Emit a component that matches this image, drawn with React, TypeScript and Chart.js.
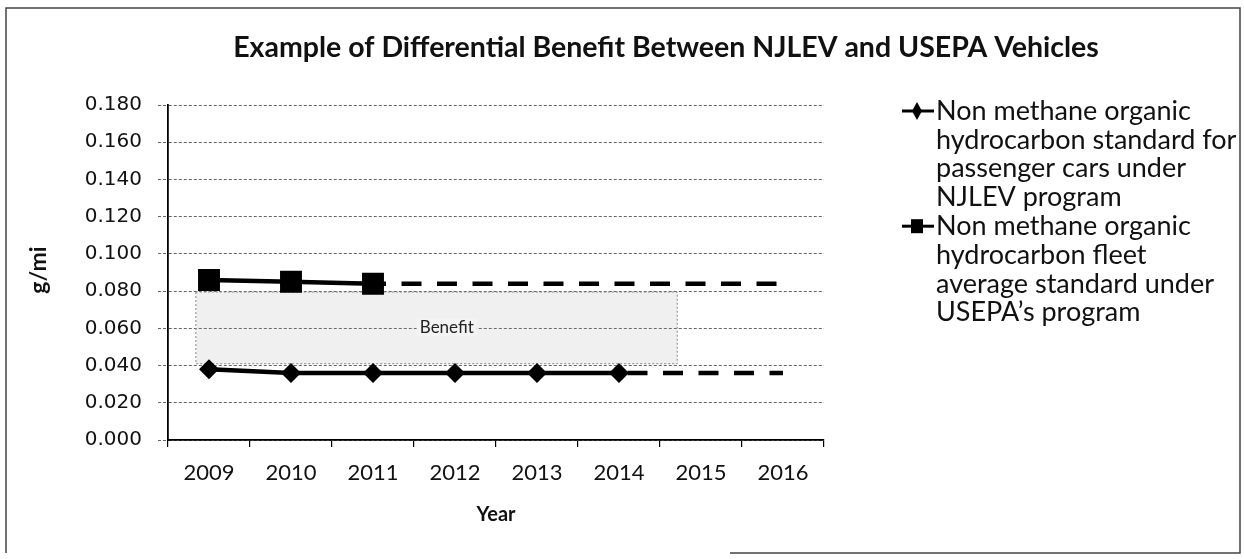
import React, { useEffect, useRef } from 'react';
import { Chart, registerables } from 'chart.js';

Chart.register(...registerables);

const chartTitle = 'Example of Differential Benefit Between NJLEV and USEPA Vehicles';
const xAxisTitle = 'Year';
const yAxisTitle = 'g/mi';
const years = ['2009', '2010', '2011', '2012', '2013', '2014', '2015', '2016'];
const njlevValues = [0.038, 0.036, 0.036, 0.036, 0.036, 0.036, 0.036, 0.036];
const usepaValues = [0.086, 0.085, 0.084, 0.084, 0.084, 0.084, 0.084, 0.084];
const njlevLastMarked = 5; // markers and solid line through 2014, dashed after
const usepaLastMarked = 2; // markers and solid line through 2011, dashed after
const yTicks = [0, 0.02, 0.04, 0.06, 0.08, 0.1, 0.12, 0.14, 0.16, 0.18];
const njlevLegend = ['Non methane organic', 'hydrocarbon standard for', 'passenger cars under', 'NJLEV program'];
const usepaLegend = ['Non methane organic', 'hydrocarbon fleet', 'average standard under', 'USEPA\u2019s program'];
const benefitLabel = 'Benefit';
const benefitXFrom = -0.16;
const benefitXTo = 5.71;
const benefitYFrom = 0.041;
const benefitYTo = 0.0795;
const benefitLabelX = 2.9;
const benefitLabelY = 0.0605;

const W = 1244;
const H = 559;
const AREA_LEFT = 168;
const AREA_RIGHT = 824;
const AREA_TOP = 105;
const AREA_BOTTOM = 440;

const decorPlugin = {
  id: 'decor',
  beforeDraw(chart: any) {
    const ctx = chart.ctx;
    ctx.save();
    ctx.fillStyle = '#fff';
    ctx.fillRect(0, 0, W, H);
    ctx.strokeStyle = '#444';
    ctx.lineWidth = 1.5;
    ctx.beginPath();
    ctx.moveTo(6, 553);
    ctx.lineTo(6, 8);
    ctx.lineTo(1240, 8);
    ctx.lineTo(1240, 553);
    ctx.lineTo(730, 553);
    ctx.stroke();
    ctx.restore();
  },
  beforeDatasetsDraw(chart: any) {
    const ctx = chart.ctx;
    const xs = chart.scales.x;
    const ys = chart.scales.y;
    const x0 = xs.getPixelForValue(benefitXFrom);
    const x1 = xs.getPixelForValue(benefitXTo);
    const y0 = ys.getPixelForValue(benefitYTo);
    const y1 = ys.getPixelForValue(benefitYFrom);
    ctx.save();
    ctx.fillStyle = 'rgba(150,150,150,0.14)';
    ctx.fillRect(x0, y0, x1 - x0, y1 - y0);
    ctx.strokeStyle = '#888';
    ctx.lineWidth = 1;
    ctx.setLineDash([2, 2]);
    ctx.strokeRect(x0, y0, x1 - x0, y1 - y0);
    ctx.setLineDash([]);
    const lx = xs.getPixelForValue(benefitLabelX);
    const ly = ys.getPixelForValue(benefitLabelY);
    ctx.font = '17px Lato';
    const tw = ctx.measureText(benefitLabel).width;
    ctx.fillStyle = '#f3f3f3';
    ctx.fillRect(lx - tw / 2 - 3, ly - 9, tw + 6, 18);
    ctx.fillStyle = '#222';
    ctx.textAlign = 'center';
    ctx.textBaseline = 'middle';
    ctx.fillText(benefitLabel, lx, ly);
    ctx.restore();
  },
  afterDraw(chart: any) {
    const ctx = chart.ctx;
    ctx.save();
    ctx.fillStyle = '#111';
    ctx.font = 'bold 28.5px Lato';
    ctx.textAlign = 'center';
    ctx.textBaseline = 'middle';
    ctx.fillText(chartTitle, 666, 48);
    ctx.font = 'bold 20px Lato';
    ctx.fillText(xAxisTitle, (AREA_LEFT + AREA_RIGHT) / 2, 515);
    ctx.save();
    ctx.translate(39, 270);
    ctx.rotate(-Math.PI / 2);
    ctx.font = 'bold 23px Lato';
    ctx.fillText(yAxisTitle, 0, 0);
    ctx.restore();
    const lineStep = 28.8;
    const startY = 111;
    const drawEntry = (lines: string[], y: number, kind: string) => {
      ctx.strokeStyle = '#000';
      ctx.lineWidth = 3;
      ctx.beginPath();
      ctx.moveTo(902, y);
      ctx.lineTo(934, y);
      ctx.stroke();
      ctx.fillStyle = '#000';
      ctx.beginPath();
      if (kind === 'diamond') {
        ctx.moveTo(917, y - 9);
        ctx.lineTo(922, y);
        ctx.lineTo(917, y + 9);
        ctx.lineTo(912, y);
        ctx.closePath();
      } else {
        ctx.rect(911, y - 7, 12, 14);
      }
      ctx.fill();
      ctx.fillStyle = '#111';
      ctx.font = '27px Lato';
      ctx.textAlign = 'left';
      ctx.textBaseline = 'middle';
      lines.forEach((t, i) => ctx.fillText(t, 936, y + i * lineStep));
    };
    drawEntry(njlevLegend, startY, 'diamond');
    drawEntry(usepaLegend, startY + njlevLegend.length * lineStep, 'square');
    ctx.restore();
  },
};

export default function App() {
  const ref = useRef<HTMLCanvasElement>(null);

  useEffect(() => {
    document.body.style.margin = '0';
    const canvas = ref.current;
    if (!canvas) return;
    const dashAfter = (last: number, offset: number) => ({
      borderDash: (c: any) => (c.p0DataIndex >= last ? [20, 15.5] : undefined),
      borderDashOffset: (c: any) => (c.p0DataIndex >= last ? offset : 0),
    });
    const chart = new Chart(canvas, {
      type: 'line',
      data: {
        labels: years,
        datasets: [
          {
            label: njlevLegend.join(' '),
            data: njlevValues,
            borderColor: '#000',
            backgroundColor: '#000',
            borderWidth: 4.5,
            pointStyle: 'rectRot',
            pointRadius: (c: any) => (c.dataIndex <= njlevLastMarked ? 10 : 0),
            pointBorderWidth: 0,
            tension: 0,
            segment: dashAfter(njlevLastMarked, 27),
          },
          {
            label: usepaLegend.join(' '),
            data: usepaValues,
            borderColor: '#000',
            backgroundColor: '#000',
            borderWidth: 4.5,
            pointStyle: 'rect',
            pointRadius: (c: any) => (c.dataIndex <= usepaLastMarked ? 15.5 : 0),
            pointBorderWidth: 0,
            tension: 0,
            segment: dashAfter(usepaLastMarked, 7),
          },
        ],
      },
      options: {
        responsive: false,
        animation: false,
        devicePixelRatio: 1,
        layout: { padding: { left: 0, right: W - AREA_RIGHT, top: AREA_TOP, bottom: 0 } },
        plugins: {
          legend: { display: false },
          title: { display: false },
          tooltip: { enabled: false },
        },
        scales: {
          x: {
            type: 'category',
            offset: true,
            afterFit: (s: any) => {
              s.height = H - AREA_BOTTOM;
            },
            grid: {
              offset: true,
              drawOnChartArea: false,
              drawTicks: true,
              tickLength: 7,
              color: '#000',
              lineWidth: 1.2,
            },
            border: { display: true, color: '#000', width: 1.8 },
            ticks: {
              color: '#111',
              padding: 13,
              maxRotation: 0,
              font: { family: 'Lato', size: 22 },
            },
          },
          y: {
            min: 0,
            max: 0.18,
            afterFit: (s: any) => {
              s.width = AREA_LEFT;
            },
            afterBuildTicks: (s: any) => {
              s.ticks = yTicks.map((v) => ({ value: v }));
            },
            grid: {
              color: '#666',
              lineWidth: 1,
              drawTicks: true,
              tickLength: 10,
              tickBorderDash: [3, 2],
            },
            border: { display: true, color: '#000', width: 1.8, dash: [3, 2] },
            ticks: {
              color: '#111',
              padding: 16,
              font: { family: 'DejaVu Sans', size: 20 },
              callback: (v: any) => Number(v).toFixed(3),
            },
          },
        },
      },
      plugins: [decorPlugin],
    } as any);
    return () => chart.destroy();
  }, []);

  return (
    <div style={{ width: W, height: H }}>
      <canvas ref={ref} width={W} height={H} style={{ display: 'block' }} />
    </div>
  );
}
